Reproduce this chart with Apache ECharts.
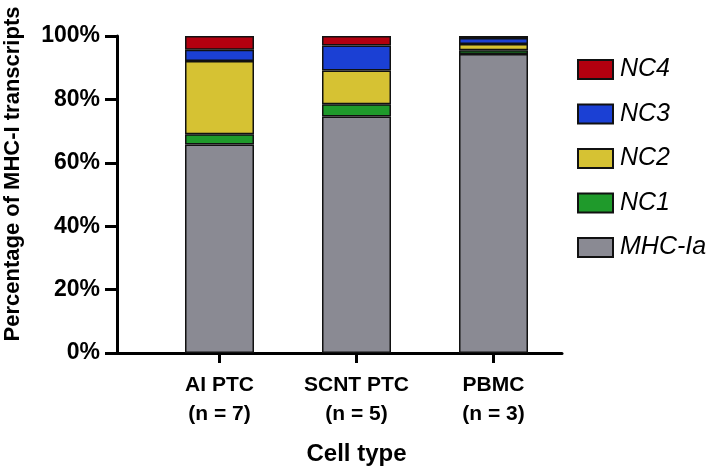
<!DOCTYPE html>
<html><head><meta charset="utf-8">
<script src="https://cdn.jsdelivr.net/npm/echarts@6/dist/echarts.min.js"></script>
<style>html,body{margin:0;padding:0;background:#fff}#c{width:709px;height:468px}</style>
</head><body><div id="c"></div>
<script>
const categories = ['AI PTC\n(n = 7)', 'SCNT PTC\n(n = 5)', 'PBMC\n(n = 3)'];
const mhcIa = [65.8, 74.6, 94.3];
const nc1 = [3.2, 3.9, 1.2];
const nc2 = [23.1, 10.6, 2.0];
const nc3 = [3.6, 7.9, 1.9];
const nc4 = [4.3, 3.0, 0.6];
const yTicks = [0, 20, 40, 60, 80, 100];
const seriesNames = ['MHC-Ia', 'NC1', 'NC2', 'NC3', 'NC4'];
const colors = ['#8a8a93', '#1f9a2b', '#d6c233', '#1b40d4', '#b3000f'];

const FONT = '"Liberation Sans", Arial, sans-serif';
const chart = echarts.init(document.getElementById('c'));
const vals = [mhcIa, nc1, nc2, nc3, nc4];
chart.setOption({
  animation: false,
  backgroundColor: '#fff',
  grid: [
    {left: 151, right: 147, top: 36, bottom: 115, containLabel: false, outerBoundsMode: 'none'},
    {left: 117, right: 147, top: 36, bottom: 115, containLabel: false, outerBoundsMode: 'none'}
  ],
  xAxis: [{
    type: 'category', gridIndex: 0, data: categories,
    axisLine: {show: false},
    axisTick: {show: true, alignWithLabel: true, length: 10, lineStyle: {color: '#000', width: 3}},
    axisLabel: {color: '#000', fontFamily: FONT, fontWeight: 'bold', fontSize: 21, lineHeight: 29, margin: 18},
    name: 'Cell type', nameLocation: 'middle', nameGap: 89,
    nameTextStyle: {color: '#000', fontFamily: FONT, fontWeight: 'bold', fontSize: 24}
  }, {
    type: 'value', gridIndex: 1, min: 0, max: 1,
    axisLine: {show: true, onZero: false, lineStyle: {color: '#000', width: 3}},
    axisTick: {show: false}, axisLabel: {show: false}, splitLine: {show: false}
  }],
  yAxis: [{
    type: 'value', gridIndex: 0, min: 0, max: 100, interval: 20, offset: 34,
    axisLine: {show: true, lineStyle: {color: '#000', width: 3}},
    axisTick: {show: true, length: 12, lineStyle: {color: '#000', width: 3}},
    axisLabel: {color: '#000', fontFamily: FONT, fontWeight: 'bold', fontSize: 23, margin: 17,
      formatter: v => yTicks.includes(v) ? v + '%' : ''},
    splitLine: {show: false}
  }, {
    type: 'value', gridIndex: 1, min: 0, max: 1, show: false
  }],
  legend: {
    orient: 'vertical', left: 577, top: 57, padding: 0, icon: 'rect',
    itemWidth: 35, itemHeight: 19, itemGap: 19.5,
    data: ['NC4', 'NC3', 'NC2', 'NC1', 'MHC-Ia'],
    textStyle: {color: '#000', fontFamily: FONT, fontStyle: 'italic', fontSize: 25, padding: [0,0,0,2]}
  },
  graphic: [{
    type: 'text', x: 13, y: 174, rotation: Math.PI / 2,
    style: {text: 'Percentage of MHC-I transcripts', fill: '#000',
      font: 'bold 22px ' + FONT, align: 'center', verticalAlign: 'middle'}
  }],
  series: seriesNames.map((n, i) => ({
    name: n, type: 'bar', stack: 'all', xAxisIndex: 0, yAxisIndex: 0,
    barWidth: 69, data: vals[i],
    itemStyle: {color: colors[i], borderColor: '#111', borderWidth: 1.5}
  }))
});
</script></body></html>
